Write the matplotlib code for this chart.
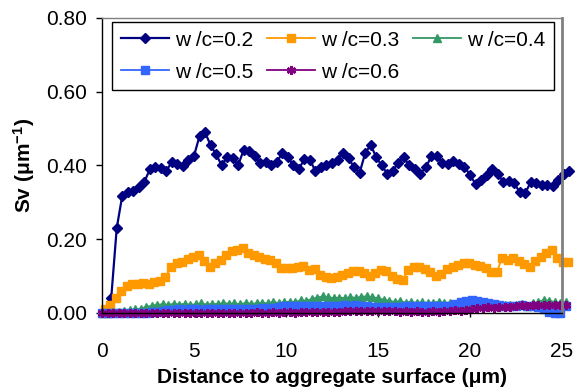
import numpy as np
import matplotlib

matplotlib.use("Agg")
import matplotlib.pyplot as plt

plt.rcParams["font.family"] = ["Liberation Sans", "DejaVu Sans"]
plt.rcParams["mathtext.default"] = "regular"

# sampling positions (distance to aggregate surface, um)
dist_02 = np.round(np.arange(0.5, 25.45, 0.3), 2)
dist_03 = np.round(np.arange(0.15, 25.4, 0.3), 2)
dist_low = np.round(np.arange(0.0, 25.25, 0.3), 2)

# Sv values (1/um)
sv_02 = [0.04, 0.23, 0.318, 0.328, 0.33, 0.343, 0.355, 0.39, 0.397, 0.392,
         0.386, 0.41, 0.405, 0.398, 0.415, 0.426, 0.48, 0.49, 0.455, 0.43,
         0.401, 0.422, 0.42, 0.401, 0.442, 0.44, 0.425, 0.406, 0.41, 0.40,
         0.41, 0.433, 0.424, 0.40, 0.39, 0.418, 0.415, 0.385, 0.395, 0.40,
         0.408, 0.416, 0.433, 0.42, 0.395, 0.38, 0.433, 0.456, 0.423, 0.40,
         0.378, 0.385, 0.408, 0.422, 0.40, 0.39, 0.378, 0.395, 0.425, 0.425,
         0.408, 0.405, 0.412, 0.405, 0.397, 0.374, 0.35, 0.36, 0.374, 0.39,
         0.378, 0.356, 0.358, 0.352, 0.328, 0.325, 0.355, 0.352, 0.348, 0.347,
         0.345, 0.36, 0.376, 0.385]
sv_03 = [0.01, 0.022, 0.04, 0.061, 0.073, 0.079, 0.08, 0.081, 0.08, 0.085,
         0.088, 0.098, 0.124, 0.136, 0.139, 0.147, 0.152, 0.157, 0.142, 0.126,
         0.135, 0.143, 0.158, 0.168, 0.172, 0.175, 0.162, 0.157, 0.152, 0.146,
         0.145, 0.135, 0.121, 0.121, 0.123, 0.125, 0.127, 0.117, 0.12, 0.103,
         0.097, 0.094, 0.098, 0.103, 0.108, 0.113, 0.115, 0.108, 0.1, 0.108,
         0.117, 0.115, 0.1, 0.093, 0.09, 0.117, 0.125, 0.124, 0.119, 0.11,
         0.1, 0.105, 0.12, 0.126, 0.13, 0.135, 0.135, 0.13, 0.128, 0.122,
         0.112, 0.112, 0.148, 0.144, 0.148, 0.142, 0.133, 0.126, 0.14, 0.152,
         0.162, 0.171, 0.15, 0.139, 0.137]
sv_04 = [0.0, 0.0, 0.002, 0.004, 0.006, 0.008, 0.01, 0.012, 0.016, 0.02,
         0.022, 0.024, 0.022, 0.025, 0.023, 0.025, 0.022, 0.024, 0.026, 0.023,
         0.025, 0.024, 0.027, 0.025, 0.026, 0.024, 0.027, 0.025, 0.026, 0.028,
         0.026, 0.03, 0.027, 0.029, 0.031, 0.03, 0.034, 0.033, 0.038, 0.042,
         0.045, 0.043, 0.04, 0.042, 0.04, 0.043, 0.041, 0.044, 0.045, 0.043,
         0.04, 0.036, 0.033, 0.03, 0.032, 0.028, 0.03, 0.027, 0.029, 0.026,
         0.028, 0.03, 0.027, 0.028, 0.025, 0.027, 0.024, 0.022, 0.02, 0.022,
         0.02, 0.022, 0.02, 0.023, 0.021, 0.022, 0.024, 0.02, 0.026, 0.03,
         0.035, 0.033, 0.03, 0.028, 0.03]
sv_05 = [0.0, 0.0, 0.0, 0.0, 0.0, 0.0, 0.0, 0.0, 0.0, 0.002,
         0.004, 0.006, 0.008, 0.008, 0.01, 0.009, 0.01, 0.01, 0.009, 0.01,
         0.01, 0.011, 0.01, 0.01, 0.011, 0.01, 0.012, 0.011, 0.012, 0.013,
         0.014, 0.013, 0.015, 0.018, 0.018, 0.019, 0.018, 0.019, 0.018, 0.019,
         0.018, 0.019, 0.02, 0.02, 0.021, 0.02, 0.021, 0.02, 0.019, 0.017,
         0.016, 0.015, 0.016, 0.016, 0.017, 0.018, 0.018, 0.019, 0.018, 0.018,
         0.019, 0.018, 0.018, 0.02, 0.024, 0.03, 0.033, 0.035, 0.033, 0.03,
         0.028, 0.025, 0.022, 0.02, 0.02, 0.02, 0.022, 0.02, 0.018, 0.015,
         0.01, 0.002, 0.0, 0.0, 0.019]
sv_06 = [0.0, 0.0, 0.0, 0.0, 0.0, 0.0, 0.0, 0.0, 0.0, 0.0,
         0.0, 0.0, 0.001, 0.0, 0.001, 0.0, 0.001, 0.001, 0.0, 0.001,
         0.001, 0.0, 0.001, 0.001, 0.001, 0.0, 0.001, 0.001, 0.002, 0.001,
         0.001, 0.002, 0.001, 0.002, 0.002, 0.001, 0.002, 0.002, 0.002, 0.003,
         0.003, 0.003, 0.004, 0.004, 0.005, 0.006, 0.005, 0.006, 0.005, 0.006,
         0.005, 0.005, 0.006, 0.005, 0.004, 0.005, 0.004, 0.005, 0.004, 0.004,
         0.005, 0.004, 0.005, 0.006, 0.007, 0.006, 0.008, 0.01, 0.013, 0.014,
         0.015, 0.014, 0.016, 0.015, 0.016, 0.02, 0.021, 0.02, 0.022, 0.021,
         0.022, 0.021, 0.022, 0.021, 0.022]

labels = ["w /c=0.2", "w /c=0.3", "w /c=0.4", "w /c=0.5", "w /c=0.6"]
x_ticks = [0, 5, 10, 15, 20, 25]
y_ticks = [0.0, 0.2, 0.4, 0.6, 0.8]

series = [
    (dist_02, sv_02, dict(color="#000080", marker="D", ms=5.3, lw=1.6)),
    (dist_03, sv_03, dict(color="#FF9900", marker="s", ms=5.4, lw=1.3)),
    (dist_low, sv_04, dict(color="#339966", marker="^", ms=5.6, lw=1.3)),
    (dist_low, sv_05, dict(color="#3366FF", marker="s", ms=5.8, lw=1.3)),
    (dist_low, sv_06, dict(color="#800080", marker=(6, 2, 0), ms=6.5, mew=1.8, lw=1.3)),
]

fig = plt.figure(figsize=(5.79, 3.89), dpi=100)
ax = fig.add_axes([102 / 579, 1 - 313 / 389, 460 / 579, 295 / 389])

handles = []
for (x, y, st), lab in zip(series, labels):
    h, = ax.plot(x, y, label=lab, clip_on=False, **st)
    handles.append(h)

ax.set_xlim(0, 25)
ax.set_ylim(0, 0.8)
ax.set_xticks(x_ticks)
ax.set_xticklabels([str(t) for t in x_ticks])
ax.set_yticks(y_ticks)
ax.set_yticklabels([f"{t:.2f}" for t in y_ticks])
ax.tick_params(axis="y", direction="out", length=4, width=1, pad=7, labelsize=15)
ax.tick_params(axis="x", direction="out", length=3, width=1, pad=18, labelsize=15)

for side in ["left", "bottom"]:
    ax.spines[side].set_color("black")
    ax.spines[side].set_linewidth(1.0)
ax.spines["right"].set_color("#808080")
ax.spines["right"].set_linewidth(2.0)
ax.spines["top"].set_color("#808080")
ax.spines["top"].set_linewidth(1.0)

ax.set_xlabel("Distance to aggregate surface (μm)", fontsize=15, fontweight="bold", labelpad=5)
ax.set_ylabel("Sv (μm$^{-1}$)", fontsize=15, fontweight="bold", labelpad=6)

# legend is filled row by row in the reference: reorder for column-major filling
order = [0, 3, 1, 4, 2]
leg = ax.legend(
    [handles[i] for i in order],
    [labels[i] for i in order],
    loc="upper left",
    bbox_to_anchor=((112 - 102) / 460, (313 - 22) / 295),
    borderaxespad=0,
    ncol=3,
    fontsize=15,
    handlelength=2.3,
    handletextpad=0.3,
    columnspacing=0.65,
    labelspacing=0.62,
    borderpad=0.42,
    fancybox=False,
    framealpha=1,
    edgecolor="black",
)
leg.get_frame().set_linewidth(1.0)

fig.savefig("out.png", dpi=100)
